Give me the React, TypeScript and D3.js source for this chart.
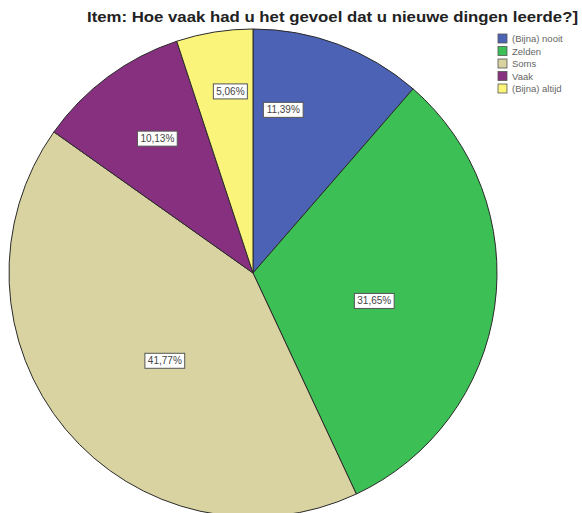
import React from "react";
import * as d3 from "d3";

// Response categories and their shares (percent)
const categories = ["(Bijna) nooit", "Zelden", "Soms", "Vaak", "(Bijna) altijd"];
const percentages = [11.39, 31.65, 41.77, 10.13, 5.06];
const sliceColors = ["#4C62B4", "#3CBF55", "#D8D3A0", "#87307F", "#FAF57A"];

// Label placement within each slice: [angle shift in degrees, fraction of radius]
const labelPlacement: [number, number][] = [
  [-10, 0.68],
  [5, 0.51],
  [-5, 0.51],
  [1, 0.676],
  [2, 0.75],
];

const title = "Item: Hoe vaak had u het gevoel dat u nieuwe dingen leerde?]";

const W = 582;
const H = 513;
const cx = 253;
const cy = 273;
const R = 244;

const fmt = (v: number) => v.toFixed(2).replace(".", ",") + "%";

export default function App() {
  const pie = d3
    .pie<number>()
    .value((d) => d)
    .sort(null)
    .startAngle(0)
    .endAngle(2 * Math.PI);
  const arcs = pie(percentages);
  const arcGen = d3.arc<d3.PieArcDatum<number>>().innerRadius(0).outerRadius(R);

  const legendY = d3
    .scaleBand<string>()
    .domain(categories)
    .range([34, 34 + 12.5 * categories.length]);

  return (
    <svg
      width={W}
      height={H}
      style={{ position: "absolute", left: 0, top: 0, background: "#fff" }}
      fontFamily="Liberation Sans, Arial, sans-serif"
    >
      <text
        x={87}
        y={22}
        fontSize={15}
        fontWeight="bold"
        fill="#222"
        textLength={491}
        lengthAdjust="spacingAndGlyphs"
      >
        {title}
      </text>
      <g transform={`translate(${cx},${cy})`}>
        {arcs.map((a, i) => (
          <path
            key={categories[i]}
            d={arcGen(a) || ""}
            fill={sliceColors[i]}
            stroke="#2a2a2a"
            strokeWidth={1}
          />
        ))}
        {arcs.map((a, i) => {
          const [shift, frac] = labelPlacement[i];
          const ang = (a.startAngle + a.endAngle) / 2 + (shift * Math.PI) / 180;
          const x = Math.sin(ang) * R * frac;
          const y = -Math.cos(ang) * R * frac;
          const label = fmt(a.data);
          const w = label.length * 5.8 + 5;
          return (
            <g key={"l" + i} transform={`translate(${x},${y})`}>
              <rect
                x={-w / 2}
                y={-7.5}
                width={w}
                height={15}
                fill="#fff"
                stroke="#555"
                strokeWidth={1}
              />
              <text
                textAnchor="middle"
                dy="0.35em"
                fontSize={10}
                fill="#444"
              >
                {label}
              </text>
            </g>
          );
        })}
      </g>
      <g>
        {categories.map((c, i) => {
          const y = legendY(c) as number;
          return (
            <g key={c} transform={`translate(498,${y})`}>
              <rect width={9} height={9} fill={sliceColors[i]} stroke="#555" strokeWidth={0.8} />
              <text x={14} y={8} fontSize={9.5} fill="#666">
                {c}
              </text>
            </g>
          );
        })}
      </g>
    </svg>
  );
}
